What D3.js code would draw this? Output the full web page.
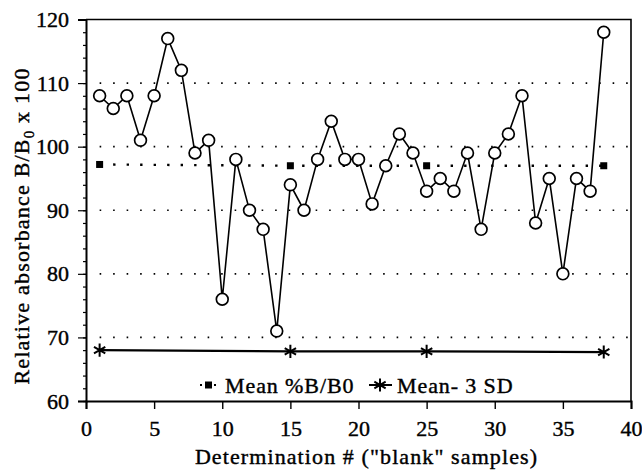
<!DOCTYPE html>
<html lang="en">
<head>
  <meta charset="UTF-8">
  <title>Relative absorbance of blank samples</title>
  <script src="https://cdn.jsdelivr.net/npm/d3@7"></script>
  <style>
    body { margin: 0; background: #fff; }
    svg text { font-family: "Liberation Serif", "Times New Roman", serif; fill: #000; stroke: #000; stroke-width: 0.4px; }
  </style>
</head>
<body>
  <svg id="chart" width="642" height="476"></svg>
  <script>
    // data
    const determination = [1, 2, 3, 4, 5, 6, 7, 8, 9, 10, 11, 12, 13, 14, 15, 16, 17, 18, 19,
                           20, 21, 22, 23, 24, 25, 26, 27, 28, 29, 30, 31, 32, 33, 34, 35, 36, 37, 38];
    const relAbsorbance = [108, 106, 108, 101, 108, 117, 112, 99, 101, 76, 98, 90, 87, 71, 94, 90, 98, 104, 98,
                           98, 91, 97, 102, 99, 93, 95, 93, 99, 87, 99, 102, 108, 88, 95, 80, 95, 93, 118];
    const meanX = [1, 15, 25, 38];
    const meanValues = [97.2, 97, 97, 97];
    const limitX = [1, 15, 25, 38];
    const limitValues = [68, 67.8, 67.8, 67.7];
    const xTicks = [0, 5, 10, 15, 20, 25, 30, 35, 40];
    const yTicks = [60, 70, 80, 90, 100, 110, 120];
    const yMinorTicks = d3.range(60, 121, 2);
    const gridValues = [70, 80, 90, 100, 110];

    const svg = d3.select('#chart');
    const margin = {top: 19.5, left: 86, right: 11, bottom: 75};
    const width = +svg.attr('width'), height = +svg.attr('height');
    const innerW = width - margin.left - margin.right,
          innerH = height - margin.top - margin.bottom;

    const x = d3.scaleLinear().domain([0, 40]).range([0, innerW]);
    const y = d3.scaleLinear().domain([60, 120]).range([innerH, 0]);

    const g = svg.append('g')
      .attr('transform', `translate(${margin.left}, ${margin.top})`);

    // dotted grid
    g.append('g').selectAll('line').data(gridValues)
      .enter().append('line')
        .attr('x1', x(1)).attr('x2', innerW)
        .attr('y1', d => y(d)).attr('y2', d => y(d))
        .attr('stroke', '#000')
        .attr('stroke-width', 1.6)
        .attr('stroke-dasharray', '1.6 11.9');

    // frame (top and right)
    g.append('path')
      .attr('d', `M0,0H${innerW}V${innerH}`)
      .attr('fill', 'none')
      .attr('stroke', '#000')
      .attr('stroke-width', 1.6);

    // axes
    const yAxis = d3.axisLeft(y).tickValues(yTicks).tickSize(8).tickPadding(9);
    const yMinor = d3.axisLeft(y).tickValues(yMinorTicks).tickSize(3).tickFormat('');
    const xAxis = d3.axisBottom(x).tickValues(xTicks).tickSize(8).tickPadding(11);

    g.append('g').call(yMinor)
      .call(s => s.select('.domain').remove())
      .selectAll('line').attr('stroke-width', 1.2);
    g.append('g').call(yAxis)
      .call(s => s.select('.domain').attr('stroke-width', 2))
      .call(s => s.selectAll('.tick line').attr('stroke-width', 1.2))
      .selectAll('text')
        .attr('font-size', 22);
    g.append('g')
      .attr('transform', `translate(0, ${innerH})`)
      .call(xAxis)
      .call(s => s.select('.domain').attr('stroke-width', 2))
      .call(s => s.selectAll('.tick line').attr('stroke-width', 1.4))
      .selectAll('text')
        .attr('font-size', 22);

    // mean %B/B0 dotted line with squares
    const meanData = meanX.map((d, i) => [d, meanValues[i]]);
    g.append('path')
      .datum(meanData)
      .attr('fill', 'none')
      .attr('stroke', '#000')
      .attr('stroke-width', 2.4)
      .attr('stroke-dasharray', '2.4 11.1')
      .attr('d', d3.line().x(d => x(d[0])).y(d => y(d[1])));
    g.append('g').selectAll('rect').data(meanData)
      .enter().append('rect')
        .attr('x', d => x(d[0]) - 3.5)
        .attr('y', d => y(d[1]) - 3.5)
        .attr('width', 7).attr('height', 7)
        .attr('fill', '#000');

    // mean - 3 SD line with asterisks
    const limitData = limitX.map((d, i) => [d, limitValues[i]]);
    g.append('path')
      .datum(limitData)
      .attr('fill', 'none')
      .attr('stroke', '#000')
      .attr('stroke-width', 2.2)
      .attr('d', d3.line().x(d => x(d[0])).y(d => y(d[1])));
    const asterisk = d3.symbol().type(d3.symbolAsterisk).size(120);
    g.append('g').selectAll('path').data(limitData)
      .enter().append('path')
        .attr('transform', d => `translate(${x(d[0])}, ${y(d[1])})`)
        .attr('d', asterisk)
        .attr('fill', 'none')
        .attr('stroke', '#000')
        .attr('stroke-width', 2);

    // measured values
    const pts = determination.map((d, i) => [d, relAbsorbance[i]]);
    g.append('path')
      .datum(pts)
      .attr('fill', 'none')
      .attr('stroke', '#000')
      .attr('stroke-width', 1.6)
      .attr('d', d3.line().x(d => x(d[0])).y(d => y(d[1])));
    g.append('g').selectAll('circle').data(pts)
      .enter().append('circle')
        .attr('cx', d => x(d[0]))
        .attr('cy', d => y(d[1]))
        .attr('r', 5.9)
        .attr('fill', '#fff')
        .attr('stroke', '#000')
        .attr('stroke-width', 1.7);

    // legend
    const leg = svg.append('g').attr('transform', 'translate(0, 386)');
    leg.append('line')
      .attr('x1', 200).attr('x2', 218).attr('y1', -1).attr('y2', -1)
      .attr('stroke', '#000').attr('stroke-width', 2)
      .attr('stroke-dasharray', '2 5');
    leg.append('rect')
      .attr('x', 205).attr('y', -4.5).attr('width', 7).attr('height', 7).attr('fill', '#000');
    leg.append('text')
      .attr('x', 225).attr('y', 7)
      .attr('font-size', 22).attr('letter-spacing', 0.9)
      .text('Mean %B/B0');
    leg.append('line')
      .attr('x1', 369).attr('x2', 392).attr('y1', -1).attr('y2', -1)
      .attr('stroke', '#000').attr('stroke-width', 2);
    leg.append('path')
      .attr('transform', 'translate(380, -1)')
      .attr('d', asterisk)
      .attr('fill', 'none').attr('stroke', '#000').attr('stroke-width', 2);
    leg.append('text')
      .attr('x', 397).attr('y', 7)
      .attr('font-size', 22).attr('letter-spacing', 0.9)
      .text('Mean- 3 SD');

    // axis titles
    svg.append('text')
      .attr('x', margin.left + innerW / 2 + 8)
      .attr('y', 464)
      .attr('text-anchor', 'middle')
      .attr('font-size', 22)
      .attr('letter-spacing', 1.1)
      .text('Determination # ("blank" samples)');

    const yTitle = svg.append('text')
      .attr('transform', 'translate(29, 226) rotate(-90)')
      .attr('text-anchor', 'middle')
      .attr('font-size', 22)
      .attr('letter-spacing', 1.2);
    yTitle.append('tspan').text('Relative absorbance B/B');
    yTitle.append('tspan').attr('font-size', 15).attr('dy', 5).text('0');
    yTitle.append('tspan').attr('dy', -5).text(' x 100');
  </script>
</body>
</html>
